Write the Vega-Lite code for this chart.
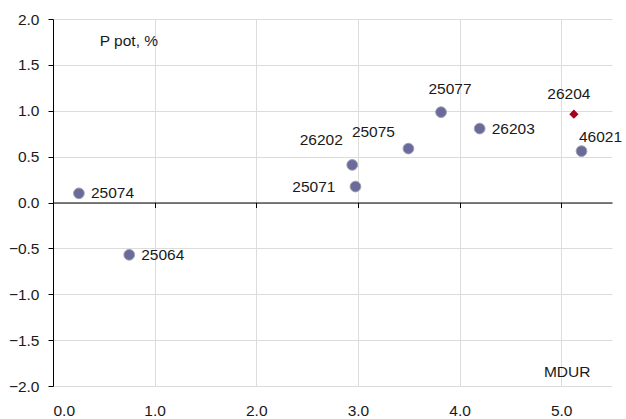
{
  "$schema": "https://vega.github.io/schema/vega-lite/v6.json",
  "width": 559,
  "height": 367,
  "autosize": {"type": "none"},
  "padding": {"left": 53, "top": 19, "right": 14, "bottom": 33},
  "config": {
    "view": {"stroke": null},
    "font": "Liberation Sans",
    "text": {"font": "Liberation Sans", "fontSize": 15.5, "color": "#1a1a1a"},
    "axis": {"labelFont": "Liberation Sans", "labelFontSize": 15.5, "labelColor": "#1a1a1a", "gridColor": "#dcdcdc", "gridWidth": 1, "title": null}
  },
  "data": {
    "values": [
      {"id": "25074", "mdur": 0.255, "ppot": 0.10, "kind": "bond"},
      {"id": "25064", "mdur": 0.75, "ppot": -0.57, "kind": "bond"},
      {"id": "26202", "mdur": 2.944, "ppot": 0.41, "kind": "bond"},
      {"id": "25071", "mdur": 2.976, "ppot": 0.174, "kind": "bond"},
      {"id": "25075", "mdur": 3.497, "ppot": 0.588, "kind": "bond"},
      {"id": "25077", "mdur": 3.818, "ppot": 0.985, "kind": "bond"},
      {"id": "26203", "mdur": 4.198, "ppot": 0.806, "kind": "bond"},
      {"id": "26204", "mdur": 5.125, "ppot": 0.963, "kind": "new"},
      {"id": "46021", "mdur": 5.2, "ppot": 0.56, "kind": "bond"}
    ]
  },
  "resolve": {"axis": {"x": "independent", "y": "independent"}},
  "layer": [
    {
      "mark": {"type": "point", "filled": true, "shape": "circle", "size": 115, "color": "#6a6a9c", "stroke": "#a0a0a8", "strokeWidth": 1, "opacity": 1},
      "transform": [{"filter": "datum.kind === 'bond'"}],
      "encoding": {
        "x": {"field": "mdur", "type": "quantitative", "scale": {"domain": [0, 5.5], "nice": false, "zero": false},
          "axis": {"orient": "bottom", "values": [0, 1, 2, 3, 4, 5], "format": ".1f", "domain": false, "ticks": false, "grid": true, "labelPadding": 17}},
        "y": {"field": "ppot", "type": "quantitative", "scale": {"domain": [-2, 2], "nice": false, "zero": false},
          "axis": {"orient": "left", "values": [-2, -1.5, -1, -0.5, 0, 0.5, 1, 1.5, 2], "format": ".1f", "domain": true, "domainColor": "#000000", "domainWidth": 1, "ticks": true, "tickColor": "#000000", "tickSize": 5, "grid": true, "labelPadding": 9}}
      }
    },
    {
      "mark": {"type": "point", "filled": true, "shape": "diamond", "size": 85, "color": "#a50021", "opacity": 1},
      "transform": [{"filter": "datum.kind === 'new'"}],
      "encoding": {
        "x": {"field": "mdur", "type": "quantitative", "scale": {"domain": [0, 5.5], "nice": false, "zero": false},
          "axis": {"orient": "bottom", "offset": -183.5, "values": [0, 1, 2, 3, 4, 5], "labels": false, "grid": false, "domain": true, "domainColor": "#000000", "domainWidth": 1, "ticks": true, "tickColor": "#000000", "tickSize": 5}},
        "y": {"field": "ppot", "type": "quantitative", "scale": {"domain": [-2, 2], "nice": false, "zero": false}, "axis": null}
      }
    },
    {
      "mark": {"type": "text", "align": "left", "baseline": "middle", "dx": 12},
      "transform": [{"filter": "indexof(['25074','25064','26203'], datum.id) >= 0"}],
      "encoding": {
        "x": {"field": "mdur", "type": "quantitative", "axis": null},
        "y": {"field": "ppot", "type": "quantitative", "axis": null},
        "text": {"field": "id"}
      }
    },
    {
      "mark": {"type": "text", "align": "right", "baseline": "middle", "dx": -20},
      "transform": [{"filter": "datum.id === '25071'"}],
      "encoding": {
        "x": {"field": "mdur", "type": "quantitative", "axis": null},
        "y": {"field": "ppot", "type": "quantitative", "axis": null},
        "text": {"field": "id"}
      }
    },
    {
      "mark": {"type": "text", "align": "center", "baseline": "middle", "dx": -31, "dy": -25},
      "transform": [{"filter": "datum.id === '26202'"}],
      "encoding": {
        "x": {"field": "mdur", "type": "quantitative", "axis": null},
        "y": {"field": "ppot", "type": "quantitative", "axis": null},
        "text": {"field": "id"}
      }
    },
    {
      "mark": {"type": "text", "align": "center", "baseline": "middle", "dx": -35, "dy": -17},
      "transform": [{"filter": "datum.id === '25075'"}],
      "encoding": {
        "x": {"field": "mdur", "type": "quantitative", "axis": null},
        "y": {"field": "ppot", "type": "quantitative", "axis": null},
        "text": {"field": "id"}
      }
    },
    {
      "mark": {"type": "text", "align": "center", "baseline": "middle", "dx": 9, "dy": -23},
      "transform": [{"filter": "datum.id === '25077'"}],
      "encoding": {
        "x": {"field": "mdur", "type": "quantitative", "axis": null},
        "y": {"field": "ppot", "type": "quantitative", "axis": null},
        "text": {"field": "id"}
      }
    },
    {
      "mark": {"type": "text", "align": "center", "baseline": "middle", "dx": -5, "dy": -20},
      "transform": [{"filter": "datum.id === '26204'"}],
      "encoding": {
        "x": {"field": "mdur", "type": "quantitative", "axis": null},
        "y": {"field": "ppot", "type": "quantitative", "axis": null},
        "text": {"field": "id"}
      }
    },
    {
      "mark": {"type": "text", "align": "center", "baseline": "middle", "dx": 19, "dy": -14},
      "transform": [{"filter": "datum.id === '46021'"}],
      "encoding": {
        "x": {"field": "mdur", "type": "quantitative", "axis": null},
        "y": {"field": "ppot", "type": "quantitative", "axis": null},
        "text": {"field": "id"}
      }
    },
    {
      "data": {"values": [{"label": "P pot, %", "mx": 0.46, "my": 1.76}, {"label": "MDUR", "mx": 4.83, "my": -1.85}]},
      "mark": {"type": "text", "align": "left", "baseline": "middle"},
      "encoding": {
        "x": {"field": "mx", "type": "quantitative", "axis": null},
        "y": {"field": "my", "type": "quantitative", "axis": null},
        "text": {"field": "label"}
      }
    }
  ]
}
